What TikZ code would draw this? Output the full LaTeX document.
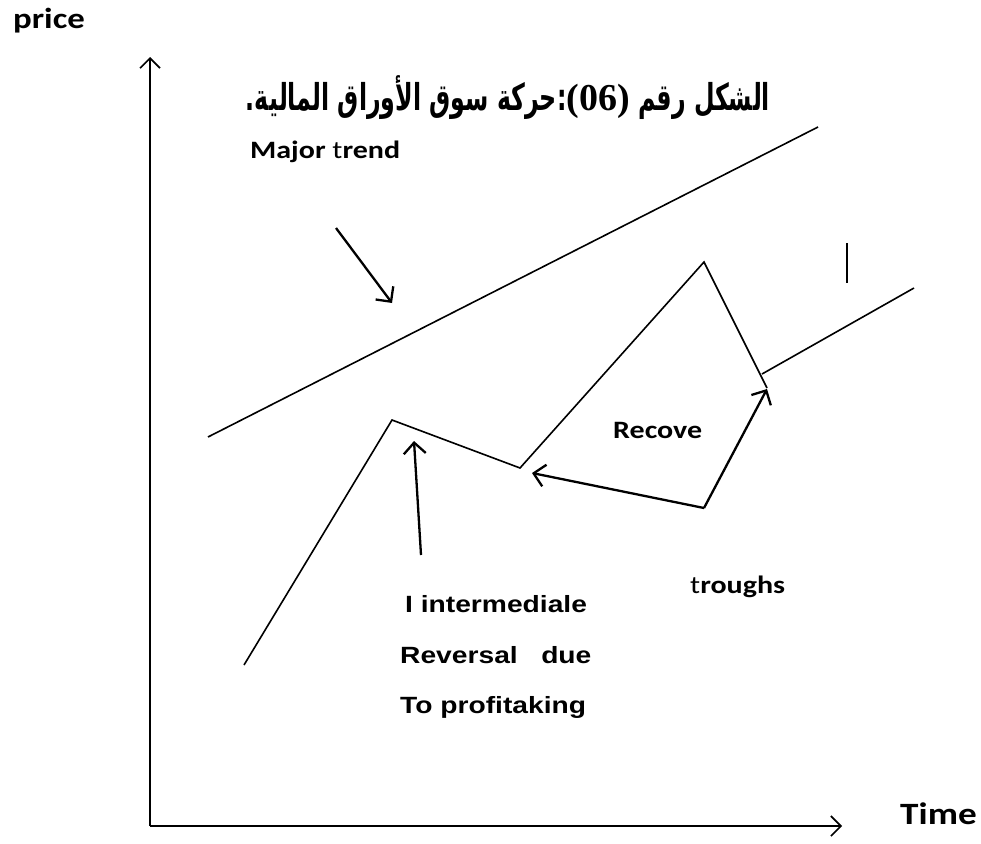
\documentclass[tikz,border=0pt]{standalone}
\usepackage{fontspec}
\usetikzlibrary{arrows.meta}
\TeXXeTstate=1
\newfontfamily\calfont[FakeStretch=1.2]{Carlito}
\newfontfamily\arialfont[FakeStretch=1.2]{Liberation Sans}
\newfontfamily\arabicfont[Script=Arabic,FakeStretch=0.64]{DejaVu Sans}
\newfontfamily\timesfont{Liberation Serif}
\tikzset{
  lbl/.style={inner sep=0pt, anchor=base west},
  cal/.style={font=\calfont\bfseries\fontsize{#1}{#1}\selectfont},
  ari/.style={font=\arialfont\bfseries\fontsize{23.5}{28}\selectfont},
  pline/.style={line width=1.6pt, line join=miter},
  axisline/.style={line width=1.6pt, -{Straight Barb[length=10pt,width=20pt,line width=1.6pt]}},
  arr/.style={line width=2.3pt, -{Straight Barb[length=11pt,width=22pt,line width=2.3pt]}},
}
\begin{document}
\begin{tikzpicture}[x=1pt,y=-1pt]
\useasboundingbox (0,0) rectangle (981,843);
% axes
\coordinate (O) at (150,826);
\coordinate (Ytop) at (150,57);
\coordinate (Xend) at (842,826);
\draw[axisline] (O) -- (Ytop);
\draw[axisline] (O) -- (Xend);
% labels
\node[lbl, cal=29] (price) at (13,29) {price};
\node[lbl, cal=31] (time) at (900,824) {Time};
\node[lbl, cal=25] (major) at (250,158) {Major {\mdseries t}rend};
\node[lbl, cal=25] (recove) at (613,438) {Recove};
\node[lbl, cal=25] (troughs) at (690,593) {{\mdseries t}roughs};
\node[lbl, ari] (l1) at (405,612) {I intermediale};
\node[lbl, ari] (l2) at (400,663) {Reversal\ \ \ due};
\node[lbl, ari] (l3) at (400,713) {To profitaking};
\node[inner sep=0pt, anchor=base, font=\arabicfont\bfseries\fontsize{37}{44}\selectfont] (title) at (508,110)
  {\beginR الشكل رقم \beginL{\timesfont\bfseries\fontsize{38}{40}\selectfont(06)}\endL:حركة سوق الأوراق المالية.\endR};
% major trend line
\coordinate (T1) at (208,437);
\coordinate (T2) at (818,127);
\draw[pline] (T1) -- (T2);
% price path
\coordinate (P0) at (244,665);
\coordinate (P1) at (392,420);
\coordinate (P2) at (520,468);
\coordinate (P3) at (704,262);
\coordinate (P4) at (767,388);
\coordinate (P5) at (762,374);
\coordinate (P6) at (914,288);
\draw[pline] (P0) -- (P1) -- (P2) -- (P3) -- (P4);
\draw[pline] (P5) -- (P6);
% small mark
\coordinate (M1) at (847,243);
\coordinate (M2) at (847,283);
\draw[line width=1.8pt] (M1) -- (M2);
% arrows
\coordinate (A1s) at (336,228);
\coordinate (A1e) at (392,303);
\draw[arr] (A1s) -- (A1e);
\coordinate (A2s) at (421,555);
\coordinate (A2e) at (414,441);
\draw[arr] (A2s) -- (A2e);
\coordinate (Tr) at (704,508);
\coordinate (A3e) at (532,473);
\coordinate (A4e) at (767,389);
\draw[arr] (Tr) -- (A3e);
\draw[arr] (Tr) -- (A4e);
\end{tikzpicture}
\end{document}
